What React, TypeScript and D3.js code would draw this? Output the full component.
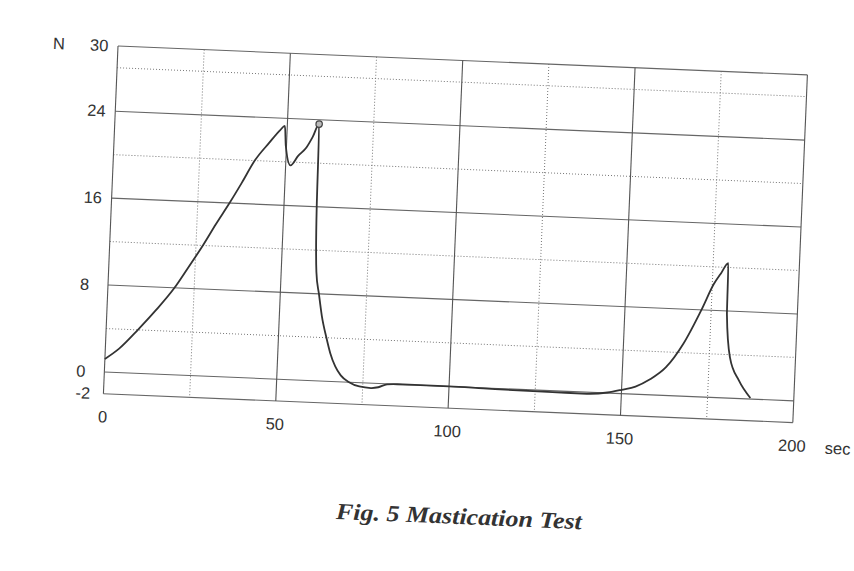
import React, { useRef, useEffect } from 'react';
import * as d3 from 'd3';

// force curve of the mastication test (sec, N)
const timeSec = [0, 4, 9.2, 14, 19.3, 23, 27, 30.5, 34.2, 37.5, 41, 45, 48, 49.3, 49.8, 51.4, 53.5, 55.8, 57.5, 59.2,
  59.5, 60.2, 61.2, 62.3, 63.9, 65.2, 66.8, 68.5, 71, 74, 77.4, 79.5, 82, 85, 90, 100, 110, 120, 130, 140, 146, 150, 154,
  158, 162.6, 167.3, 172.3, 175.4, 177.5, 179.4, 179.6, 181, 183.9, 187.4];
const forceN = [1.2, 2.2, 4, 5.8, 8, 9.9, 12, 14, 16, 17.9, 20, 21.7, 22.9, 23.3, 21.5, 19.7, 20.6, 21.4, 22.4, 23.6,
  16, 10, 8, 6, 4, 2.6, 1.4, 0.6, 0, -0.35, -0.45, -0.35, -0.05, 0, 0, 0, -0.05, -0.1, -0.12, -0.15, 0.05, 0.35, 0.7,
  1.4, 2.6, 4.8, 8.1, 10.4, 11.5, 12.4, 7.7, 3.75, 1.65, 0.1];
const markerIndex = 19;

const yTickLabels = [30, 24, 16, 8, 0, -2];
const xTickLabels = [0, 50, 100, 150, 200];
const solidY = [30, 24, 16, 8, 0, -2];
const dottedY = [28, 20, 12, 4];
const solidX = [0, 50, 100, 150, 200];
const dottedX = [25, 75, 125, 175];

function App() {
  const canvas = useRef<HTMLDivElement>(null);

  useEffect(() => {
    const W = 854, H = 571;
    const origin = { left: 118, top: 46 };
    const width = 690, height = 348;
    const tilt = 2.4; // the scan is a little crooked

    d3.select(canvas.current).select('svg').remove();
    const svg = d3.select(canvas.current)
      .append('svg')
      .attr('width', W)
      .attr('height', H)
      .style('position', 'absolute')
      .style('left', 0)
      .style('top', 0)
      .style('background', '#fff');

    const g = svg.append('g')
      .attr('transform', `translate(${origin.left},${origin.top}) rotate(${tilt})`);

    const x = d3.scaleLinear().domain([0, 200]).range([0, width]);
    const y = d3.scaleLinear().domain([-2, 30]).range([height, 0]);

    // dotted grid
    g.selectAll('.dy').data(dottedY).enter().append('line')
      .attr('x1', 0).attr('x2', width)
      .attr('y1', d => y(d)).attr('y2', d => y(d))
      .attr('stroke', '#777').attr('stroke-width', 1).attr('stroke-dasharray', '1,2');
    g.selectAll('.dx').data(dottedX).enter().append('line')
      .attr('y1', 0).attr('y2', height)
      .attr('x1', d => x(d)).attr('x2', d => x(d))
      .attr('stroke', '#777').attr('stroke-width', 1).attr('stroke-dasharray', '1,2');

    // solid grid
    g.selectAll('.sy').data(solidY).enter().append('line')
      .attr('x1', 0).attr('x2', width)
      .attr('y1', d => y(d)).attr('y2', d => y(d))
      .attr('stroke', '#666').attr('stroke-width', 1.1);
    g.selectAll('.sx').data(solidX).enter().append('line')
      .attr('y1', 0).attr('y2', height)
      .attr('x1', d => x(d)).attr('x2', d => x(d))
      .attr('stroke', '#555').attr('stroke-width', 1.1);

    // curve
    const pts = timeSec.map((t, i) => [t, forceN[i]] as [number, number]);
    const line = d3.line<[number, number]>()
      .x(d => x(d[0]))
      .y(d => y(d[1]))
      .curve(d3.curveMonotoneX);
    g.append('path')
      .datum(pts)
      .attr('d', line)
      .attr('fill', 'none')
      .attr('stroke', '#333')
      .attr('stroke-width', 1.8)
      .attr('stroke-linejoin', 'round');

    g.append('circle')
      .attr('cx', x(timeSec[markerIndex]))
      .attr('cy', y(forceN[markerIndex]))
      .attr('r', 3.2)
      .attr('fill', '#bbb')
      .attr('stroke', '#444')
      .attr('stroke-width', 1.2);

    const font = '"Liberation Sans", Arial, sans-serif';

    // y labels (left aligned in the original)
    g.selectAll('.yl').data(yTickLabels).enter().append('text')
      .attr('x', -28)
      .attr('y', d => y(d))
      .attr('dy', '0.35em')
      .attr('text-anchor', 'start')
      .style('font-family', font).style('font-size', '16.5px').style('fill', '#333')
      .text(d => d);

    g.append('text')
      .attr('x', -65).attr('y', 0).attr('dy', '0.35em')
      .attr('text-anchor', 'start')
      .style('font-family', font).style('font-size', '16.5px').style('fill', '#333')
      .text('N');

    // x labels
    g.selectAll('.xl').data(xTickLabels).enter().append('text')
      .attr('x', d => x(d))
      .attr('y', height + 23)
      .attr('dy', '0.35em')
      .attr('text-anchor', 'middle')
      .style('font-family', font).style('font-size', '16.5px').style('fill', '#333')
      .text(d => d);

    g.append('text')
      .attr('x', width + 33).attr('y', height + 24).attr('dy', '0.35em')
      .style('font-family', font).style('font-size', '16.5px').style('fill', '#333')
      .text('sec');

    // caption
    svg.append('text')
      .attr('transform', `translate(459,516) rotate(${tilt})`)
      .attr('text-anchor', 'middle')
      .attr('dy', '0.35em')
      .attr('textLength', 246)
      .attr('lengthAdjust', 'spacingAndGlyphs')
      .style('font-family', '"Liberation Serif", "Times New Roman", serif')
      .style('font-style', 'italic')
      .style('font-weight', 'bold')
      .style('font-size', '23px')
      .style('fill', '#333')
      .text('Fig. 5 Mastication Test');
  }, []);

  return (
    <div ref={canvas}>
    </div>
  );
}

export default App;
